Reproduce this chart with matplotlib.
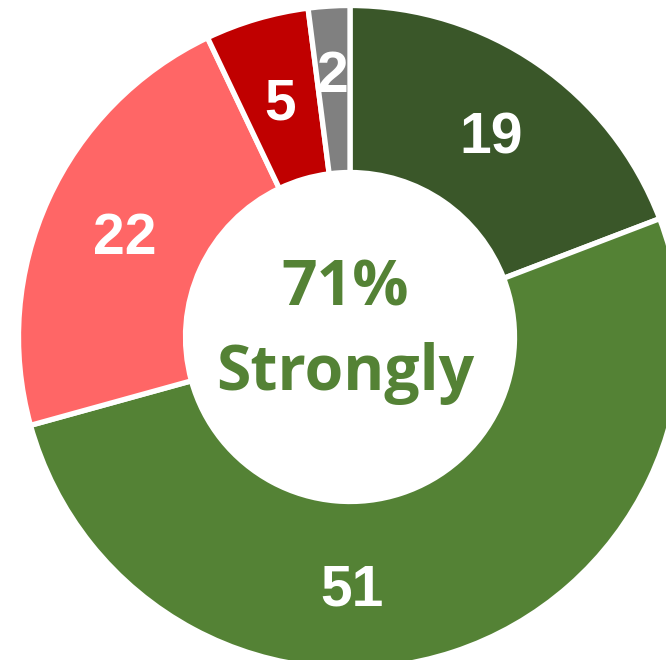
import matplotlib
matplotlib.use("Agg")
import matplotlib.pyplot as plt
import numpy as np

categories = ["Strongly agree", "Agree", "Disagree", "Strongly disagree", "No opinion"]
values = [19, 51, 22, 5, 2]
labels = ["19", "51", "22", "5", "2"]
colors = ["#3A5729", "#548235", "#FF6666", "#C00000", "#808080"]
center_pct = "71%"
center_word = "Strongly"

W, H = 666, 660
fig = plt.figure(figsize=(W / 100, H / 100), dpi=100)
ax = fig.add_axes([0, 0, 1, 1])

cx, cy = 350, H - 337
R, r_in = 331.5, 164.5
wedges, _ = ax.pie(values, colors=colors, startangle=90, counterclock=False,
                   radius=R, center=(cx, cy),
                   wedgeprops=dict(width=R - r_in, edgecolor="white", linewidth=3.8),
                   frame=True)
ax.set_xlim(0, W)
ax.set_ylim(0, H)
ax.set_aspect("equal")
ax.axis("off")

# label placement (Excel labels were nudged manually for some slices)
label_angle_override = {1: -89.5}
label_radius_override = {4: 266}
fs = 41
cap_half = 0.716 * fs * 100 / 72 / 2
rmid = 248
for i, (w, lab) in enumerate(zip(wedges, labels)):
    ang_deg = label_angle_override.get(i, (w.theta1 + w.theta2) / 2)
    rr = label_radius_override.get(i, rmid)
    ang = np.deg2rad(ang_deg)
    x = cx + rr * np.cos(ang)
    y = cy + rr * np.sin(ang)
    ax.text(x, y - cap_half, lab, ha="center", va="baseline", color="white",
            fontsize=fs, fontweight="bold", family="Liberation Sans")

ax.text(cx - 5, H - 305, center_pct, ha="center", va="baseline", color="#548235",
        fontsize=45, fontweight="bold", family="Open Sans")
ax.text(cx - 5, H - 390, center_word, ha="center", va="baseline", color="#548235",
        fontsize=45, fontweight="bold", family="Open Sans")

fig.savefig("out.png", dpi=100)
